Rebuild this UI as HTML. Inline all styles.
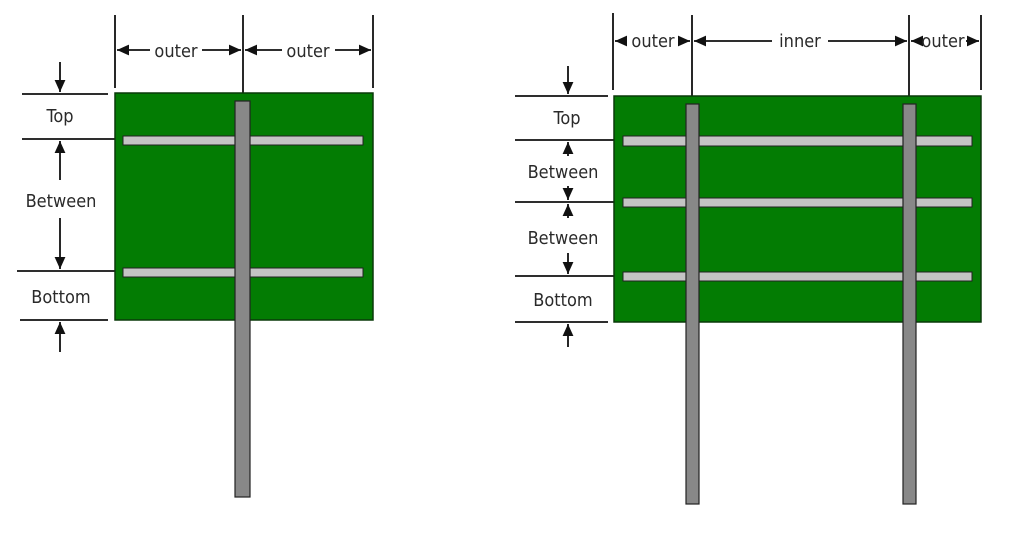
<!DOCTYPE html>
<html><head><meta charset="utf-8"><style>
html,body{margin:0;padding:0;background:#fff;}
svg{display:block}
text{font-family:"DejaVu Sans Condensed","Liberation Sans",sans-serif;fill:#2a2a2a;font-size:18px;text-anchor:middle}
</style></head><body>
<svg width="1024" height="541" viewBox="0 0 1024 541" xmlns="http://www.w3.org/2000/svg">
<defs>
<marker id="b" viewBox="0 0 10 10" refX="10" refY="5" markerWidth="12" markerHeight="12" orient="auto-start-reverse" markerUnits="userSpaceOnUse">
<path d="M0,0.5 L10,5 L0,9.5 z" fill="#111"/></marker>
</defs>
<g stroke="#111" stroke-width="1.8" fill="none">
<!-- LEFT -->
<line x1="115" y1="15" x2="115" y2="88"/>
<line x1="243" y1="15" x2="243" y2="100"/>
<line x1="373" y1="15" x2="373" y2="88"/>
<line x1="22" y1="94" x2="108" y2="94"/>
<line x1="22" y1="139" x2="120" y2="139"/>
<line x1="17" y1="271" x2="120" y2="271"/>
<line x1="20" y1="320" x2="108" y2="320"/>
<line x1="150" y1="50" x2="117" y2="50" marker-end="url(#b)"/>
<line x1="202" y1="50" x2="241" y2="50" marker-end="url(#b)"/>
<line x1="282" y1="50" x2="245" y2="50" marker-end="url(#b)"/>
<line x1="335" y1="50" x2="371" y2="50" marker-end="url(#b)"/>
<line x1="60" y1="62" x2="60" y2="92" marker-end="url(#b)"/>
<line x1="60" y1="180" x2="60" y2="141" marker-end="url(#b)"/>
<line x1="60" y1="218" x2="60" y2="269" marker-end="url(#b)"/>
<line x1="60" y1="352" x2="60" y2="322" marker-end="url(#b)"/>
<!-- RIGHT -->
<line x1="613" y1="13" x2="613" y2="90"/>
<line x1="692" y1="15" x2="692" y2="100"/>
<line x1="909" y1="15" x2="909" y2="100"/>
<line x1="981" y1="15" x2="981" y2="90"/>
<line x1="515" y1="96" x2="608" y2="96"/>
<line x1="515" y1="140" x2="618" y2="140"/>
<line x1="515" y1="202" x2="618" y2="202"/>
<line x1="515" y1="276" x2="618" y2="276"/>
<line x1="515" y1="322" x2="608" y2="322"/>
<line x1="626" y1="41" x2="615" y2="41" marker-end="url(#b)"/>
<line x1="680" y1="41" x2="690" y2="41" marker-end="url(#b)"/>
<line x1="772" y1="41" x2="694" y2="41" marker-end="url(#b)"/>
<line x1="828" y1="41" x2="907" y2="41" marker-end="url(#b)"/>
<line x1="920" y1="41" x2="911" y2="41" marker-end="url(#b)"/>
<line x1="966" y1="41" x2="979" y2="41" marker-end="url(#b)"/>
<line x1="568" y1="66" x2="568" y2="94" marker-end="url(#b)"/>
<line x1="568" y1="156" x2="568" y2="142" marker-end="url(#b)"/>
<line x1="568" y1="186" x2="568" y2="200" marker-end="url(#b)"/>
<line x1="568" y1="218" x2="568" y2="204" marker-end="url(#b)"/>
<line x1="568" y1="253" x2="568" y2="274" marker-end="url(#b)"/>
<line x1="568" y1="347" x2="568" y2="324" marker-end="url(#b)"/>
</g>
<!-- left shapes -->
<rect x="115" y="93" width="258" height="227" fill="#037c03" stroke="#0a3a0a" stroke-width="1.5"/>
<rect x="123" y="136" width="240" height="9" fill="#c4c4c4" stroke="#222" stroke-width="1"/>
<rect x="123" y="268" width="240" height="9" fill="#c4c4c4" stroke="#222" stroke-width="1"/>
<rect x="235" y="101" width="15" height="396" fill="#888" stroke="#222" stroke-width="1.2"/>
<!-- right shapes -->
<rect x="614" y="96" width="367" height="226" fill="#037c03" stroke="#0a3a0a" stroke-width="1.5"/>
<rect x="623" y="136" width="349" height="10" fill="#c4c4c4" stroke="#222" stroke-width="1"/>
<rect x="623" y="198" width="349" height="9" fill="#c4c4c4" stroke="#222" stroke-width="1"/>
<rect x="623" y="272" width="349" height="9" fill="#c4c4c4" stroke="#222" stroke-width="1"/>
<rect x="686" y="104" width="13" height="400" fill="#888" stroke="#222" stroke-width="1.2"/>
<rect x="903" y="104" width="13" height="400" fill="#888" stroke="#222" stroke-width="1.2"/>
<!-- text -->
<text x="176" y="57">outer</text>
<text x="308" y="57">outer</text>
<text x="60" y="122">Top</text>
<text x="61" y="207">Between</text>
<text x="61" y="303">Bottom</text>
<text x="653" y="47">outer</text>
<text x="800" y="47">inner</text>
<text x="943" y="47">outer</text>
<text x="567" y="124">Top</text>
<text x="563" y="178">Between</text>
<text x="563" y="244">Between</text>
<text x="563" y="306">Bottom</text>
</svg>
</body></html>
